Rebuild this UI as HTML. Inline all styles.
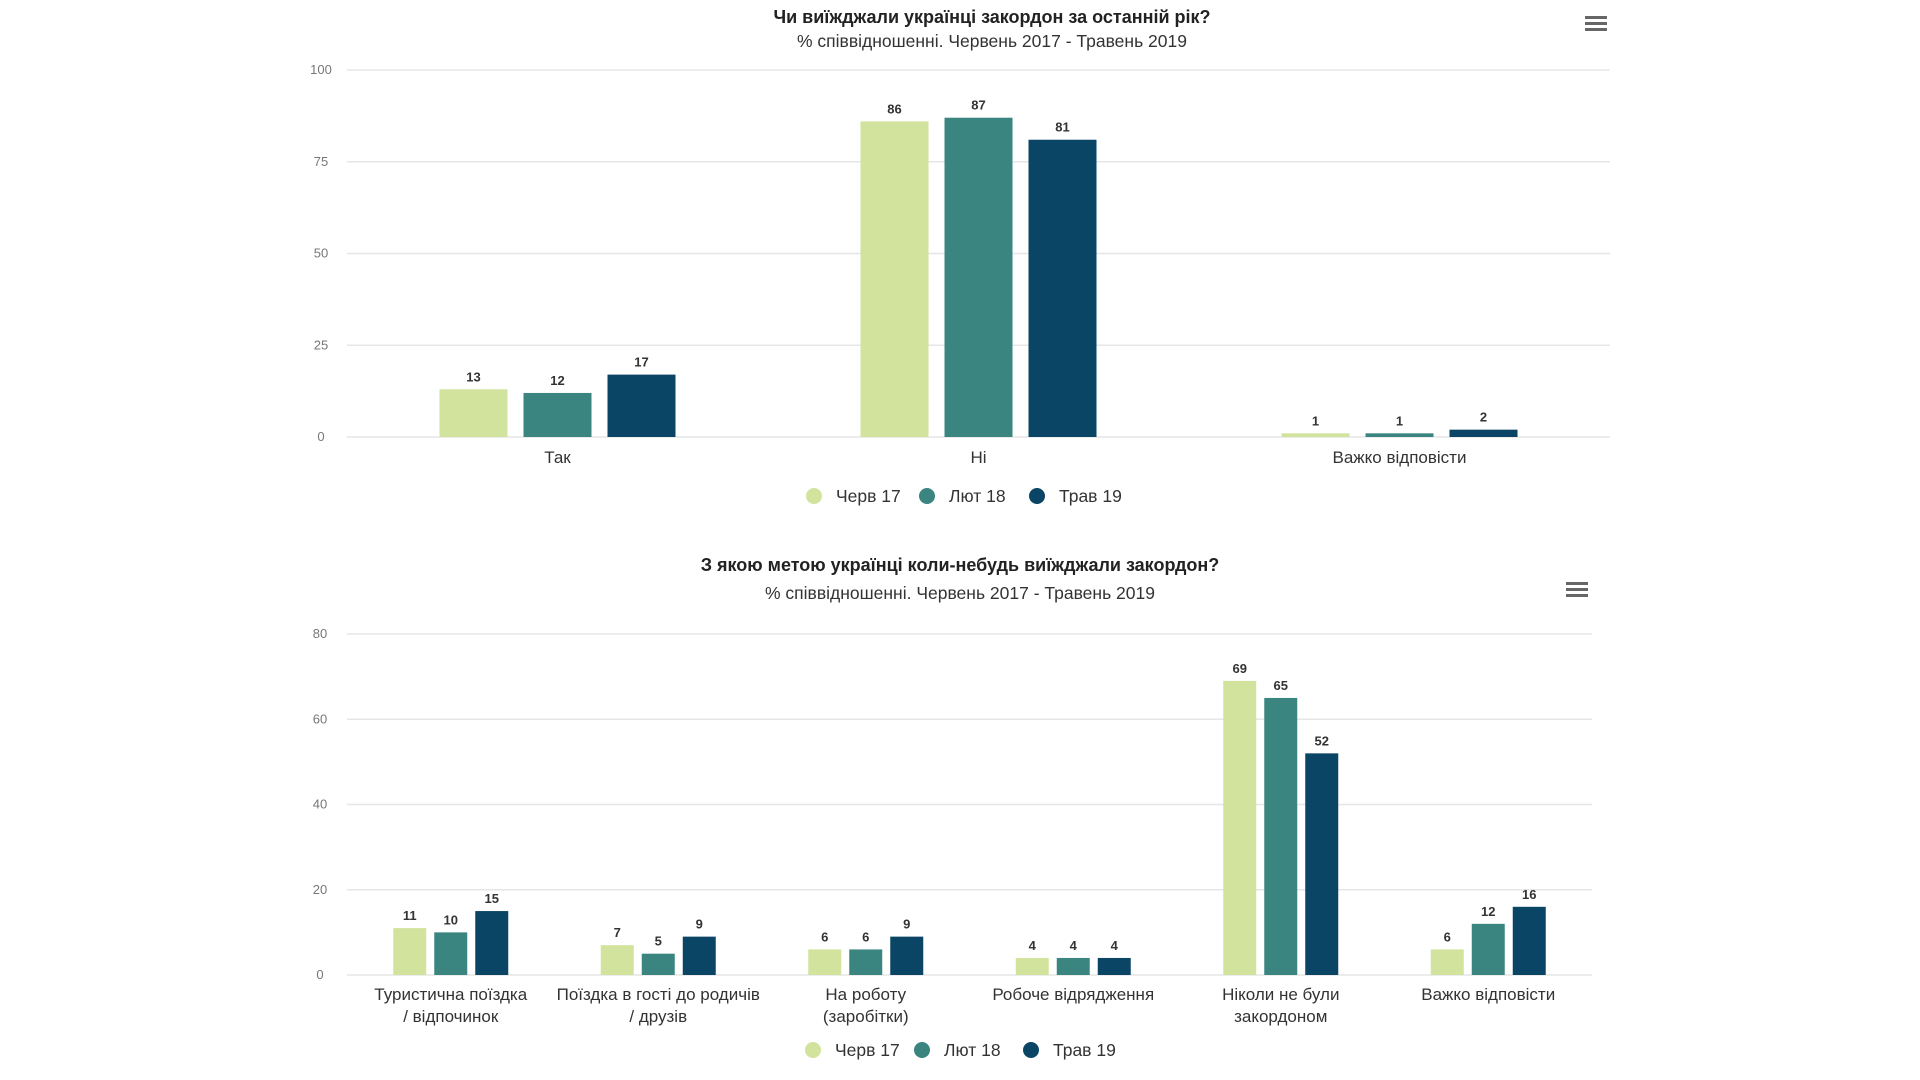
<!DOCTYPE html>
<html><head><meta charset="utf-8">
<style>
html,body{margin:0;padding:0;background:#fff;}
svg{display:block;font-family:"Liberation Sans","DejaVu Sans",sans-serif;}
</style></head>
<body>
<svg id="chart" width="1920" height="1080" viewBox="0 0 1920 1080" xmlns="http://www.w3.org/2000/svg"></svg>
<script>
// ---- Data: chart 1 ----
const c1Categories = ["Так", "Ні", "Важко відповісти"];
const c1Cherv17 = [13, 86, 1];
const c1Lyut18 = [12, 87, 1];
const c1Trav19 = [17, 81, 2];
const c1Ticks = [0, 25, 50, 75, 100];
// ---- Data: chart 2 ----
const c2Categories = [["Туристична поїздка","/ відпочинок"],["Поїздка в гості до родичів","/ друзів"],["На роботу","(заробітки)"],["Робоче відрядження"],["Ніколи не були","закордоном"],["Важко відповісти"]];
const c2Cherv17 = [11, 7, 6, 4, 69, 6];
const c2Lyut18 = [10, 5, 6, 4, 65, 12];
const c2Trav19 = [15, 9, 9, 4, 52, 16];
const c2Ticks = [0, 20, 40, 60, 80];
const seriesNames = ["Черв 17", "Лют 18", "Трав 19"];
const colors = ["#d1e39c", "#3b8580", "#0b4566"];

const svg = document.getElementById('chart');
const NS = "http://www.w3.org/2000/svg";
function mk(tag, attrs, parent){ const e=document.createElementNS(NS,tag); for(const k in attrs) e.setAttribute(k,attrs[k]); (parent||svg).appendChild(e); return e; }

function drawChart(cfg){
  const g = mk('g',{});
  
  
  const yScale = v => cfg.y0 - (v / cfg.max) * (cfg.y0 - cfg.y1);
  const catW = (cfg.x1 - cfg.x0) / cfg.cats.length;
  const xCenter = i => cfg.x0 + catW * (i + 0.5);
  let t = mk('text',{x:cfg.cx, y:cfg.titleY, 'text-anchor':'middle','font-size':18,'font-weight':'bold',fill:'#222'},g);
  t.textContent = cfg.title;
   
  t = mk('text',{x:cfg.cx, y:cfg.subY, 'text-anchor':'middle','font-size':17.5,fill:'#333'},g);
  t.textContent = "% співвідношенні. Червень 2017 - Травень 2019";
   
  const m = mk('g',{},g);
   
  for(let k=0;k<3;k++) mk('rect',{x:cfg.menuX-11,y:cfg.menuY-8+k*6,width:22,height:3,fill:'#666'},m);
  cfg.ticks.forEach(v=>{
    const y = yScale(v);
    const l = mk('line',{x1:cfg.x0,x2:cfg.x1,y1:y,y2:y,stroke:'#e6e6e6','stroke-width':1.5},g);
     
    const tx = mk('text',{x:cfg.tickX,y:y+4,'text-anchor':'middle','font-size':13,fill:'#777'},g);
    tx.textContent = v;
     
  });
  cfg.series.forEach((vals, s)=>{
    vals.forEach((v,i)=>{
      const x = xCenter(i) + (s-1)*cfg.step - cfg.bw/2;
      const y = yScale(v);
      const r = mk('rect',{x:x,y:y,width:cfg.bw,height:cfg.y0-y,fill:colors[s]},g);
       
      const lt = mk('text',{x:x+cfg.bw/2,y:y-8,'text-anchor':'middle','font-size':13,'font-weight':'bold',fill:'#333'},g);
      lt.textContent = v;
       
    });
  });
  cfg.cats.forEach((c,i)=>{
    const lines = Array.isArray(c)?c:[c];
    lines.forEach((ln,k)=>{
      const ct = mk('text',{x:xCenter(i),y:cfg.catY+k*22,'text-anchor':'middle','font-size':17,fill:'#333'},g);
      ct.textContent = ln;
       
    });
  });
  seriesNames.forEach((n,s)=>{
    const lg = mk('g',{},g);
     
    mk('circle',{cx:cfg.legX[s],cy:cfg.legY-6,r:8,fill:colors[s]},lg);
    const lt = mk('text',{x:cfg.legX[s]+22,y:cfg.legY,'font-size':17.5,fill:'#333'},lg);
    lt.textContent = n;
  });
}

drawChart({name:'chart-travel-last-year', title:"Чи виїжджали українці закордон за останній рік?",
  cx:992, titleY:23, subY:47, menuX:1596, menuY:24,
  x0:347, x1:1610, y0:437, y1:70, max:100, ticks:c1Ticks, tickX:321,
  cats:c1Categories, series:[c1Cherv17,c1Lyut18,c1Trav19], bw:68, step:84,
  catY:463, legX:[814,927,1037], legY:502});

drawChart({name:'chart-travel-purpose', title:"З якою метою українці коли-небудь виїжджали закордон?",
  cx:960, titleY:571, subY:599, menuX:1577, menuY:590,
  x0:347, x1:1592, y0:975, y1:634, max:80, ticks:c2Ticks, tickX:320,
  cats:c2Categories, series:[c2Cherv17,c2Lyut18,c2Trav19], bw:33, step:41,
  catY:1000, legX:[813,922,1031], legY:1056});
</script>
</body></html>
